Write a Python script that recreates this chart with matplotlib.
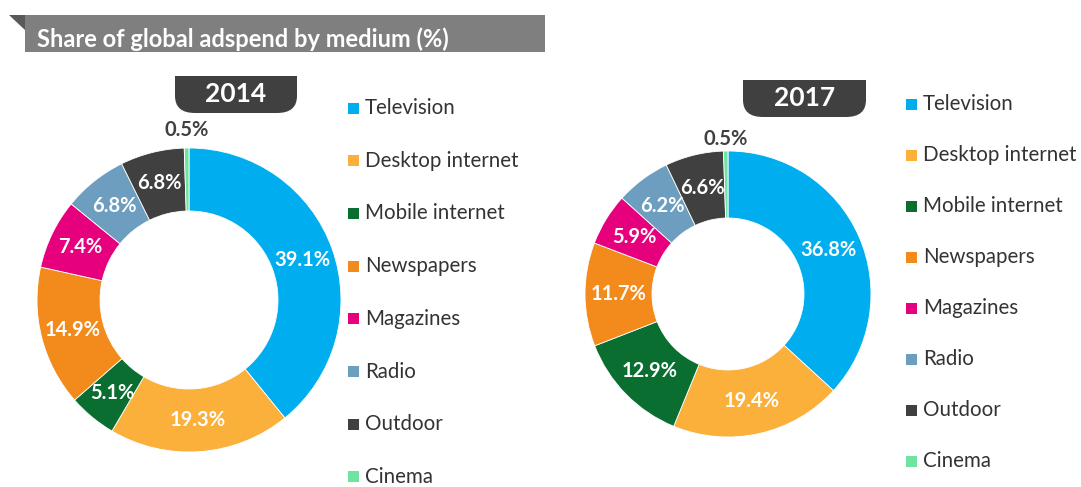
import matplotlib.pyplot as plt
from matplotlib.patches import Rectangle, Polygon, PathPatch
from matplotlib.path import Path
import numpy as np

# data
media = ['Television', 'Desktop internet', 'Mobile internet', 'Newspapers',
         'Magazines', 'Radio', 'Outdoor', 'Cinema']
share_2014 = [39.1, 19.3, 5.1, 14.9, 7.4, 6.8, 6.8, 0.5]
share_2017 = [36.8, 19.4, 12.9, 11.7, 5.9, 6.2, 6.6, 0.5]
colors = ['#00aeef', '#fbb03b', '#0b6e31', '#f38b1c',
          '#e6007e', '#6d9ec0', '#404040', '#6fe3a0']

W, H = 1081, 487
FONT = ['Lato', 'DejaVu Sans']


def Y(y):
    # pixel row (from top) -> data y (from bottom)
    return H - y


def draw_tab(ax, x0, x1, ytop, ybot, text):
    rx, ry = 20, 17
    verts = [(x0, Y(ytop)), (x1, Y(ytop)), (x1, Y(ybot - ry)),
             (x1, Y(ybot)), (x1 - rx, Y(ybot)), (x0 + rx, Y(ybot)),
             (x0, Y(ybot)), (x0, Y(ybot - ry)), (x0, Y(ytop))]
    codes = [Path.MOVETO, Path.LINETO, Path.LINETO,
             Path.CURVE3, Path.CURVE3, Path.LINETO,
             Path.CURVE3, Path.CURVE3, Path.CLOSEPOLY]
    ax.add_patch(PathPatch(Path(verts, codes), facecolor='#404040', edgecolor='none'))
    ax.text((x0 + x1) / 2, Y((ytop + ybot) / 2), text, color='white', fontsize=19,
            fontweight='bold', family=FONT, ha='center', va='center')


def draw_donut(ax, values, cx, cy, r, width, outer_pad):
    wedges, _ = ax.pie(values, colors=colors, startangle=90, counterclock=False,
                       radius=r, center=(cx, Y(cy)), normalize=True,
                       wedgeprops=dict(width=width, edgecolor='white', linewidth=0.6))
    for i, (w, v) in enumerate(zip(wedges, values)):
        ang = np.deg2rad((w.theta1 + w.theta2) / 2)
        if i == len(values) - 1:
            rr, col = r + outer_pad, '#404040'
        else:
            rr, col = r - width / 2, 'white'
        ax.text(cx + rr * np.cos(ang), Y(cy) + rr * np.sin(ang), f'{v:.1f}%',
                color=col, fontsize=14.5, fontweight='bold', family=FONT,
                ha='center', va='center')


def draw_legend(ax, x, y0, step):
    for i, (name, c) in enumerate(zip(media, colors)):
        y = y0 + i * step
        ax.add_patch(Rectangle((x, Y(y) - 5.5), 11, 11, facecolor=c, edgecolor='none'))
        ax.text(x + 17, Y(y), name, color='#333333', fontsize=14.8, family=FONT,
                ha='left', va='center')


fig = plt.figure(figsize=(W / 100, H / 100), dpi=100)
ax = fig.add_axes([0, 0, 1, 1])

draw_donut(ax, share_2014, 189, 300, 152, 63, 18)
draw_donut(ax, share_2017, 728, 294, 143, 67, 12)

ax.set_xlim(0, W)
ax.set_ylim(0, H)
ax.set_aspect('equal')
ax.axis('off')

# title banner
ax.add_patch(Polygon([(9, Y(15)), (25, Y(15)), (25, Y(30))], closed=True,
                     facecolor='#595959', edgecolor='none'))
ax.add_patch(Rectangle((25, Y(52)), 520, 37, facecolor='#7f7f7f', edgecolor='none'))
ax.text(37, Y(39), 'Share of global adspend by medium (%)', color='white',
        fontsize=17, fontweight='bold', family=FONT, ha='left', va='center')

draw_tab(ax, 175, 297, 76, 113, '2014')
draw_tab(ax, 743, 866, 80, 117, '2017')

draw_legend(ax, 348, 108, 52.7)
draw_legend(ax, 906, 104, 51)

plt.savefig('out.png', dpi=100)
